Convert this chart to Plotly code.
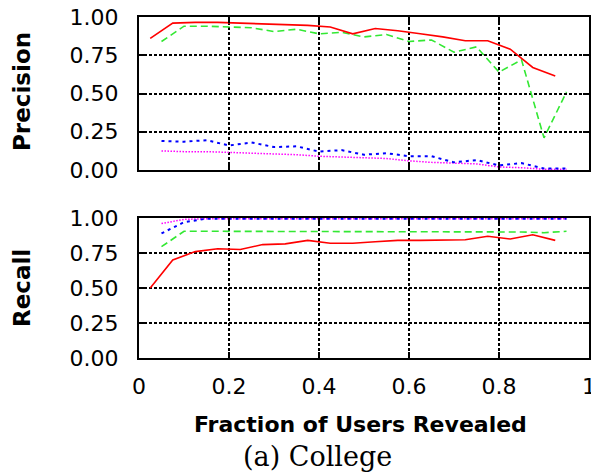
import plotly.graph_objects as go

# x positions
x_red = [0.025, 0.075, 0.125, 0.175, 0.225, 0.275, 0.325, 0.375, 0.425, 0.475,
         0.525, 0.575, 0.625, 0.675, 0.725, 0.775, 0.825, 0.875, 0.925]
x_other = [0.05, 0.10, 0.15, 0.20, 0.25, 0.30, 0.35, 0.40, 0.45, 0.50,
           0.55, 0.60, 0.65, 0.70, 0.75, 0.80, 0.85, 0.90, 0.95]

# Precision
prec_red = [0.86, 0.96, 0.965, 0.965, 0.96, 0.955, 0.95, 0.945, 0.935, 0.89,
            0.925, 0.91, 0.89, 0.87, 0.845, 0.845, 0.79, 0.67, 0.615]
prec_green = [0.84, 0.94, 0.94, 0.935, 0.93, 0.905, 0.92, 0.89, 0.90, 0.87,
              0.885, 0.84, 0.85, 0.77, 0.805, 0.64, 0.72, 0.21, 0.51]
prec_blue = [0.19, 0.185, 0.195, 0.16, 0.18, 0.15, 0.155, 0.12, 0.13, 0.10,
             0.11, 0.09, 0.09, 0.05, 0.065, 0.03, 0.045, 0.01, 0.01]
prec_magenta = [0.125, 0.12, 0.12, 0.115, 0.11, 0.105, 0.10, 0.09, 0.085, 0.08,
                0.075, 0.06, 0.05, 0.045, 0.04, 0.02, 0.015, 0.005, 0.005]

# Recall
rec_red = [0.50, 0.70, 0.76, 0.78, 0.775, 0.81, 0.815, 0.84, 0.82, 0.82,
           0.83, 0.84, 0.84, 0.84, 0.845, 0.87, 0.85, 0.88, 0.84]
rec_green = [0.795, 0.905, 0.905, 0.905, 0.905, 0.905, 0.905, 0.905, 0.905, 0.905,
             0.905, 0.905, 0.905, 0.905, 0.905, 0.905, 0.90, 0.895, 0.905]
rec_blue = [0.89, 0.97, 0.995, 0.995, 0.995, 0.995, 0.995, 0.995, 0.995, 0.995,
            0.995, 0.995, 0.995, 0.995, 0.995, 0.995, 0.995, 0.995, 0.995]
rec_magenta = [0.96, 0.99, 0.995, 0.995, 0.995, 0.995, 0.995, 0.995, 0.995, 0.995,
               0.995, 0.995, 0.995, 0.995, 0.995, 0.995, 0.995, 0.995, 0.995]

y_ticks = [0, 0.25, 0.5, 0.75, 1.0]
y_ticklabels = ["0.00", "0.25", "0.50", "0.75", "1.00"]
x_ticks = [0, 0.2, 0.4, 0.6, 0.8, 1.0]
x_ticklabels = ["0", "0.2", "0.4", "0.6", "0.8", "1"]

RED = "#ff0000"
GREEN = "#33e833"
BLUE = "#0000ff"
MAG = "#ff00ff"

fig = go.Figure()

def add(x, y, color, dash, width, xa, ya):
    fig.add_trace(go.Scatter(x=x, y=y, mode="lines", xaxis=xa, yaxis=ya,
                             line=dict(color=color, dash=dash, width=width),
                             showlegend=False, hoverinfo="skip"))

# precision (top) -> x2/y2
add(x_other, prec_magenta, MAG, "1.5px,1.5px", 1.5, "x2", "y2")
add(x_other, prec_blue, BLUE, "3px,4px", 2, "x2", "y2")
add(x_other, prec_green, GREEN, "7px,4px", 1.6, "x2", "y2")
add(x_red, prec_red, RED, "solid", 1.6, "x2", "y2")
# recall (bottom) -> x/y
add(x_other, rec_magenta, MAG, "1.5px,1.5px", 1.5, "x", "y")
add(x_other, rec_blue, BLUE, "3px,4px", 2, "x", "y")
add(x_other, rec_green, GREEN, "7px,4px", 1.6, "x", "y")
add(x_red, rec_red, RED, "solid", 1.6, "x", "y")

TICKFONT = dict(family="DejaVu Sans", size=22, color="black")
grid = dict(showgrid=True, gridcolor="black", gridwidth=1.5, griddash="3px,2px",
            showline=True, linecolor="black", linewidth=2, mirror="ticks",
            ticks="inside", ticklen=6, tickwidth=2, tickcolor="black",
            zeroline=False, automargin=False, ticklabeloverflow="allow")

# the page body has an 8px margin, so the figure is sized to fit the window
fig.update_layout(
    width=591, height=466,
    margin=dict(l=131, r=10, t=9, b=116, autoexpand=False),
    paper_bgcolor="white", plot_bgcolor="white",
    xaxis=dict(domain=[0, 1], range=[0, 1], anchor="y", tickvals=x_ticks,
               ticktext=x_ticklabels, tickfont=TICKFONT, ticklabelstandoff=8, **grid),
    yaxis=dict(domain=[0, 0.4106], range=[0, 1], anchor="x", tickvals=y_ticks,
               ticktext=y_ticklabels, tickfont=TICKFONT, ticklabelstandoff=14, **grid),
    xaxis2=dict(domain=[0, 1], range=[0, 1], anchor="y2", matches="x",
                tickvals=x_ticks, showticklabels=False, **grid),
    yaxis2=dict(domain=[0.5513, 1], range=[0, 1], anchor="x2", tickvals=y_ticks,
                ticktext=y_ticklabels, tickfont=TICKFONT, ticklabelstandoff=14, **grid),
)

TITLEFONT = dict(family="DejaVu Sans", size=23, color="black")
fig.add_annotation(text="<b>Precision</b>", xref="paper", yref="paper",
                   x=(22 - 139) / 450, y=(358 - 92) / 341, textangle=-90,
                   showarrow=False, xanchor="center", yanchor="middle", font=TITLEFONT)
fig.add_annotation(text="<b>Recall</b>", xref="paper", yref="paper",
                   x=(22 - 139) / 450, y=(358 - 288) / 341, textangle=-90,
                   showarrow=False, xanchor="center", yanchor="middle", font=TITLEFONT)
fig.add_annotation(text="<b>Fraction of Users Revealed</b>", xref="paper", yref="paper",
                   x=(360 - 139) / 450, y=(358 - 424) / 341,
                   showarrow=False, xanchor="center", yanchor="middle",
                   font=dict(family="DejaVu Sans", size=22, color="black"))
fig.add_annotation(text="(a) College", xref="paper", yref="paper",
                   x=(317 - 139) / 450, y=(358 - 456) / 341,
                   showarrow=False, xanchor="center", yanchor="middle",
                   font=dict(family="DejaVu Serif", size=27, color="black"))

fig.write_html("out.html")
